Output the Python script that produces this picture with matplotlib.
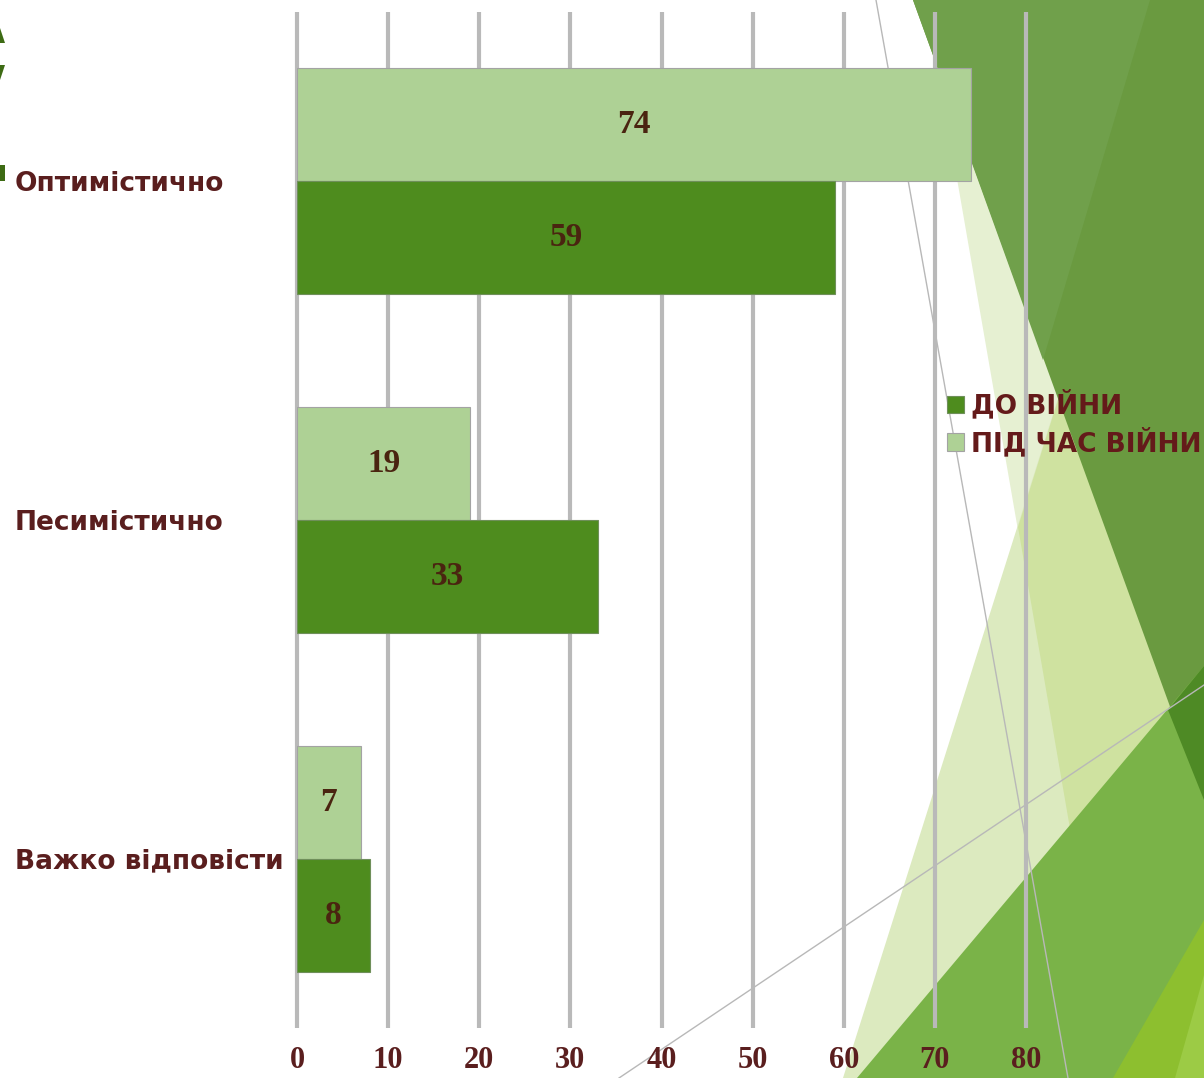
import matplotlib
matplotlib.use("Agg")
import matplotlib.pyplot as plt
from matplotlib.patches import Polygon
from matplotlib.lines import Line2D
import numpy as np

# chart data
categories = ['Оптимістично', 'Песимістично', 'Важко відповісти']
before_war = [59, 33, 8]     # ДО ВІЙНИ
during_war = [74, 19, 7]     # ПІД ЧАС ВІЙНИ
series_names = ['ДО ВІЙНИ', 'ПІД ЧАС ВІЙНИ']
x_ticks = [0, 10, 20, 30, 40, 50, 60, 70, 80]

dark_green = '#4e8c1e'
light_green = '#aed195'
text_brown = '#5a1e1e'
value_brown = '#4a2410'

W, H = 1204, 1078
fig = plt.figure(figsize=(W / 100, H / 100), dpi=100)
fig.patch.set_facecolor('white')


def px(points):
    # slide pixels -> figure fraction
    return [(x / W, 1 - y / H) for x, y in points]


# --- slide theme decoration (background triangles) ---
shapes = [
    ([(926, 0), (1204, 0), (1204, 1078), (1113, 1078)], '#e6f0d2'),
    ([(843, 1078), (1184, 0), (1204, 0), (1204, 1078)], '#dceabf'),
    ([(1018, 527), (1184, 0), (1204, 0), (1204, 1078), (1113, 1078)], '#cfe2a0'),
    ([(913, 0), (1204, 0), (1204, 800)], '#6a9a40'),
    ([(913, 0), (1150, 0), (1043, 360)], '#70a04b'),
    ([(857, 1078), (1204, 666), (1204, 1078)], '#7ab348'),
    ([(1168, 710), (1204, 666), (1204, 800)], '#4e8a25'),
    ([(1113, 1078), (1204, 920), (1204, 1078)], '#8dbf2f'),
    ([(1175, 1078), (1204, 975), (1204, 1078)], '#9ccb45'),
    ([(0, 165), (5, 165), (5, 181), (0, 181)], '#3d6b14'),
    ([(0, 28), (5, 43), (0, 43)], '#3d6b14'),
    ([(0, 65), (5, 65), (0, 80)], '#3d6b14'),
]
for pts, col in shapes:
    fig.patches.append(Polygon(px(pts), closed=True, transform=fig.transFigure,
                               facecolor=col, edgecolor='none', zorder=-2))
for (x0, y0), (x1, y1) in [((876, 0), (1068, 1078)), ((619, 1078), (1204, 685))]:
    (fx0, fy0), (fx1, fy1) = px([(x0, y0), (x1, y1)])
    fig.lines.append(Line2D([fx0, fx1], [fy0, fy1], transform=fig.transFigure,
                            color='#b8b8b8', lw=1, zorder=-1))

# --- chart ---
ax = fig.add_axes([297 / W, 1 - 1028 / H, (1026 - 297) / W, (1028 - 12) / H])
ax.patch.set_alpha(0)

y = np.arange(len(categories))
h = 1 / 3
ax.vlines(x_ticks, -0.5, 2.5, colors='#b9b9b9', lw=3, clip_on=False, zorder=0.5)
bars_during = ax.barh(y - h / 2, during_war, h, color=light_green,
                      edgecolor='#a3a3a3', lw=0.8, zorder=2, label=series_names[1])
bars_before = ax.barh(y + h / 2, before_war, h, color=dark_green,
                      edgecolor='#6f8f5a', lw=0.8, zorder=2, label=series_names[0])

for bars in (bars_during, bars_before):
    ax.bar_label(bars, label_type='center', color=value_brown, fontsize=24,
                 fontweight='bold', family='Liberation Serif')

ax.set_xlim(0, 80)
ax.set_ylim(2.5, -0.5)
ax.set_xticks(x_ticks)
ax.set_xticklabels([str(t) for t in x_ticks], family='Liberation Serif',
                   fontweight='bold', fontsize=22, color=text_brown)
ax.set_yticks(y)
ax.set_yticklabels(categories, family='DejaVu Sans', fontweight='bold',
                   fontsize=19, color=text_brown, ha='left')
ax.tick_params(axis='x', length=0, pad=13)
ax.tick_params(axis='y', length=0, pad=203)
for s in ax.spines.values():
    s.set_visible(False)

leg = ax.legend(handles=[bars_before, bars_during], labels=series_names,
                loc='upper left', bbox_to_anchor=(947 / W, 1 - 390 / H),
                bbox_transform=fig.transFigure, frameon=False,
                handlelength=0.65, handleheight=0.65, handletextpad=0.25,
                labelspacing=0.3, borderpad=0, borderaxespad=0,
                prop={'family': 'DejaVu Sans', 'weight': 'bold', 'size': 19})
for t in leg.get_texts():
    t.set_color('#641a1a')

fig.savefig('out.png', dpi=100)
